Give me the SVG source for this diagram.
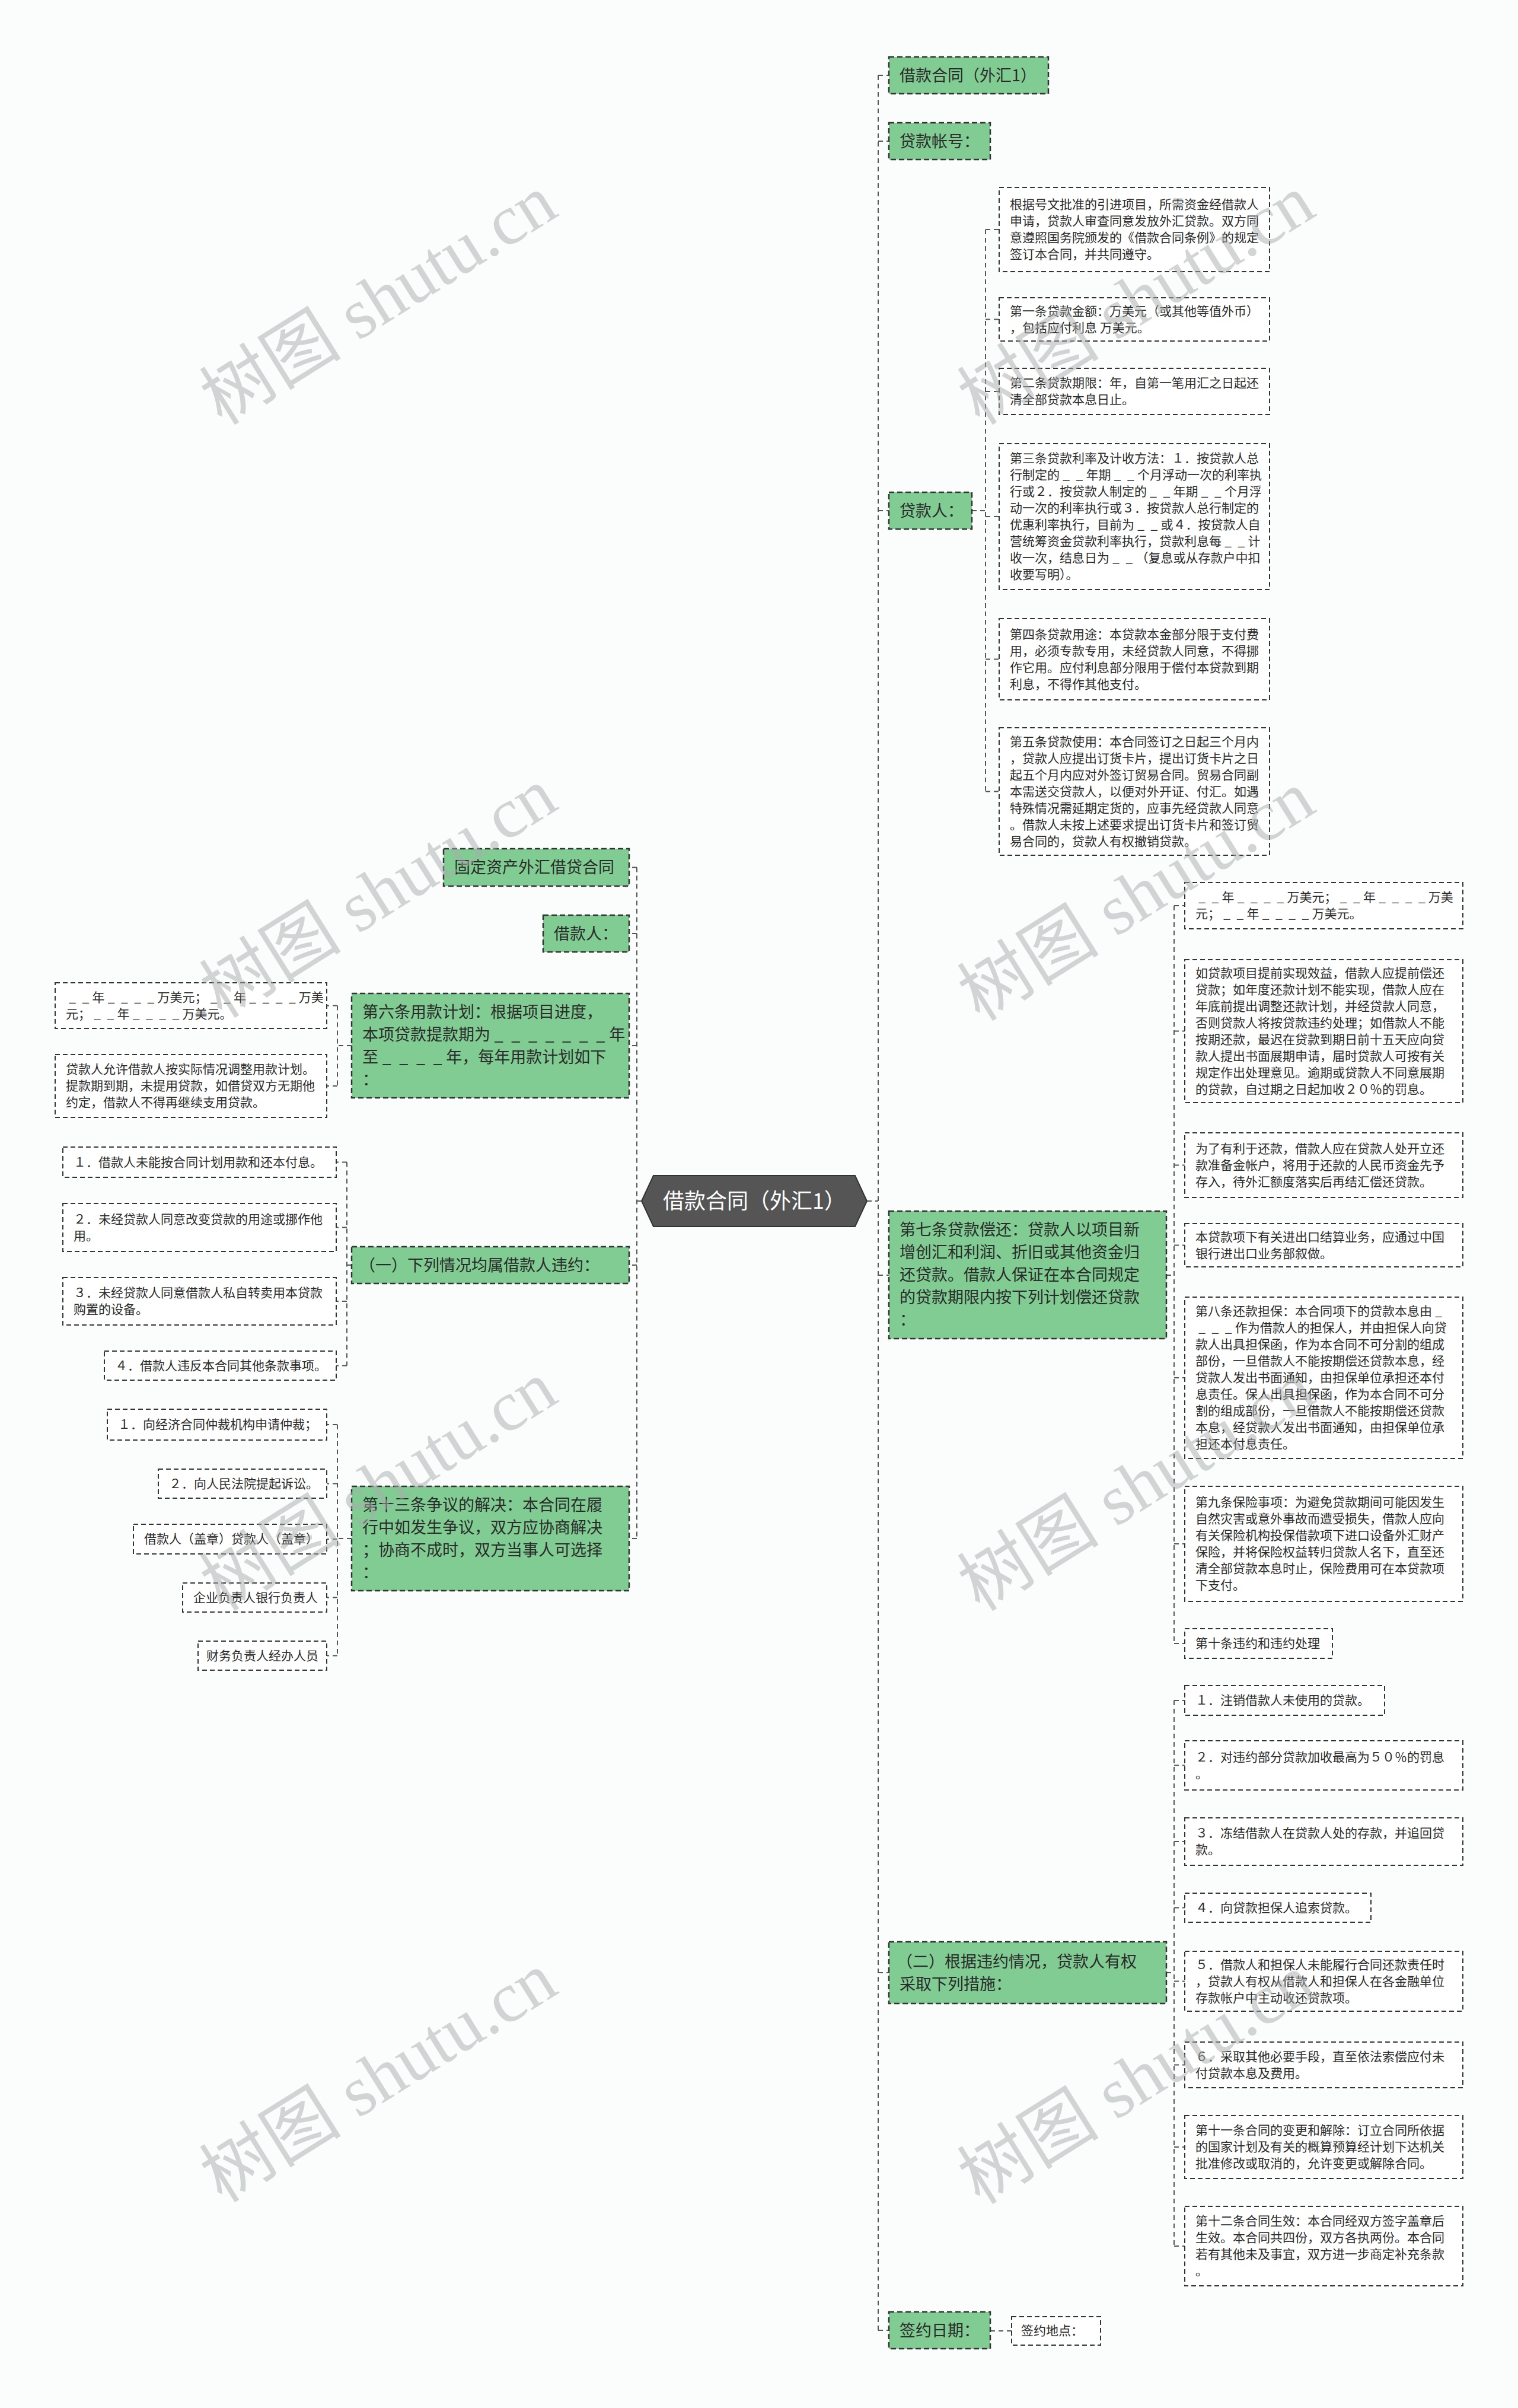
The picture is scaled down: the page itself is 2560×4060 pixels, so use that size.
<svg xmlns="http://www.w3.org/2000/svg" width="2560" height="4060" viewBox="0 0 2560 4060">
<style>
text{font-family:"Noto Sans CJK SC","Noto Sans",sans-serif;fill:#2b2b2b}
.g{fill:#80cc92;stroke:#333;stroke-width:2.5;stroke-dasharray:9 5}
.b{fill:#fff;stroke:#333;stroke-width:2;stroke-dasharray:8 5}
.t1{font-size:27px}
.t2{font-size:21px}
.c{fill:none;stroke:#555;stroke-width:2;stroke-dasharray:8 6}
.wm{font-family:"Liberation Serif","Noto Sans CJK SC",serif;font-size:120px;fill:#a9adad;opacity:0.5;text-anchor:middle}
</style>
<rect x="0" y="0" width="2560" height="4060" fill="#fbfdfd"/>
<g id="connectors">
<path class="c" d="M1462,2025H1481M1481,127V3929M1481,127H1499M1481,238H1499M1481,861H1499M1481,2150H1499M1481,3326H1499M1481,3929H1499"/>
<path class="c" d="M1639,861H1662M1662,387V1334.5M1662,387H1685M1662,538.5H1685M1662,660H1685M1662,871H1685M1662,1111.5H1685M1662,1334.5H1685"/>
<path class="c" d="M1967,2150H1980M1980,1527V2771M1980,1527H1998M1980,1738.5H1998M1980,1964.5H1998M1980,2099.5H1998M1980,2323H1998M1980,2603H1998M1980,2771H1998"/>
<path class="c" d="M1967,3326H1980M1980,2867V3787M1980,2867H1998M1980,2976.5H1998M1980,3105H1998M1980,3216.5H1998M1980,3340.5H1998M1980,3481.5H1998M1980,3620H1998M1980,3787H1998"/>
<path class="c" d="M1670,3930H1706"/>
<path class="c" d="M1082,2025H1074M1074,1462.5V2594M1074,1462.5H1061M1074,1574H1061M1074,1763H1061M1074,2133H1061M1074,2594H1061"/>
<path class="c" d="M593,1763H569M569,1695.5V1831M569,1695.5H551M569,1831H551"/>
<path class="c" d="M593,2133H585M585,1959.5V2302.5M585,1959.5H567M585,2069.5H567M585,2194H567M585,2302.5H567"/>
<path class="c" d="M593,2594H569M569,2402V2791.5M569,2402H551M569,2501.5H551M569,2595H551M569,2693.5H551M569,2791.5H551"/>
</g>
<g id="center">
<polygon points="1082,2025 1102,1982 1442,1982 1462,2025 1442,2068 1102,2068" fill="#555" stroke="#333" stroke-width="2"/>
<text x="1272" y="2038" font-size="36" text-anchor="middle" style="fill:#fff">借款合同（外汇1）</text>
</g>
<g id="r1"><rect class="g" x="1499" y="96" width="269" height="62"/><text class="t1" x="1517" y="137">借款合同（外汇1）</text></g>
<g id="r2"><rect class="g" x="1499" y="207" width="171" height="62"/><text class="t1" x="1517" y="247.5">贷款帐号：</text></g>
<g id="r3"><rect class="g" x="1499" y="830" width="140" height="62"/><text class="t1" x="1517" y="870.5">贷款人：</text></g>
<g id="r3a"><rect class="b" x="1685" y="316" width="456" height="142"/><text class="t2" x="1703" y="352">根据号文批准的引进项目，所需资金经借款人<tspan x="1703" y="380">申请，贷款人审查同意发放外汇贷款。双方同</tspan><tspan x="1703" y="408">意遵照国务院颁发的《借款合同条例》的规定</tspan><tspan x="1703" y="436">签订本合同，并共同遵守。</tspan></text></g>
<g id="r3b"><rect class="b" x="1685" y="502" width="456" height="73"/><text class="t2" x="1703" y="531.5">第一条贷款金额：万美元（或其他等值外币）<tspan x="1703" y="559.5">，包括应付利息 万美元。</tspan></text></g>
<g id="r3c"><rect class="b" x="1685" y="621" width="456" height="78"/><text class="t2" x="1703" y="653">第二条贷款期限：年，自第一笔用汇之日起还<tspan x="1703" y="681">清全部贷款本息日止。</tspan></text></g>
<g id="r3d"><rect class="b" x="1685" y="748" width="456" height="246"/><text class="t2" x="1703" y="780">第三条贷款利率及计收方法：１．按贷款人总<tspan x="1703" y="808">行制定的&#x2005;_&#x2005;&#x2005;_&#x2005;年期&#x2005;_&#x2005;&#x2005;_&#x2005;个月浮动一次的利率执</tspan><tspan x="1703" y="836">行或２．按贷款人制定的&#x2005;_&#x2005;&#x2005;_&#x2005;年期&#x2005;_&#x2005;&#x2005;_&#x2005;个月浮</tspan><tspan x="1703" y="864">动一次的利率执行或３．按贷款人总行制定的</tspan><tspan x="1703" y="892">优惠利率执行，目前为&#x2005;_&#x2005;&#x2005;_&#x2005;或４．按贷款人自</tspan><tspan x="1703" y="920">营统筹资金贷款利率执行，贷款利息每&#x2005;_&#x2005;&#x2005;_&#x2005;计</tspan><tspan x="1703" y="948">收一次，结息日为&#x2005;_&#x2005;&#x2005;_&#x2005;（复息或从存款户中扣</tspan><tspan x="1703" y="976">收要写明）。</tspan></text></g>
<g id="r3e"><rect class="b" x="1685" y="1043" width="456" height="137"/><text class="t2" x="1703" y="1076.5">第四条贷款用途：本贷款本金部分限于支付费<tspan x="1703" y="1104.5">用，必须专款专用，未经贷款人同意，不得挪</tspan><tspan x="1703" y="1132.5">作它用。应付利息部分限用于偿付本贷款到期</tspan><tspan x="1703" y="1160.5">利息，不得作其他支付。</tspan></text></g>
<g id="r3f"><rect class="b" x="1685" y="1227" width="456" height="215"/><text class="t2" x="1703" y="1257.5">第五条贷款使用：本合同签订之日起三个月内<tspan x="1703" y="1285.5">，贷款人应提出订货卡片，提出订货卡片之日</tspan><tspan x="1703" y="1313.5">起五个月内应对外签订贸易合同。贸易合同副</tspan><tspan x="1703" y="1341.5">本需送交贷款人，以便对外开证、付汇。如遇</tspan><tspan x="1703" y="1369.5">特殊情况需延期定货的，应事先经贷款人同意</tspan><tspan x="1703" y="1397.5">。借款人未按上述要求提出订货卡片和签订贸</tspan><tspan x="1703" y="1425.5">易合同的，贷款人有权撤销贷款。</tspan></text></g>
<g id="r4"><rect class="g" x="1499" y="2042" width="468" height="215"/><text class="t1" x="1517" y="2083">第七条贷款偿还：贷款人以项目新<tspan x="1517" y="2121">增创汇和利润、折旧或其他资金归</tspan><tspan x="1517" y="2159">还贷款。借款人保证在本合同规定</tspan><tspan x="1517" y="2197">的贷款期限内按下列计划偿还贷款</tspan><tspan x="1517" y="2235">：</tspan></text></g>
<g id="r4a"><rect class="b" x="1998" y="1488" width="469" height="78"/><text class="t2" x="2016" y="1520">&#x2005;_&#x2005;&#x2005;_&#x2005;年&#x2005;_&#x2005;&#x2005;_&#x2005;&#x2005;_&#x2005;&#x2005;_&#x2005;万美元；&#x2005;_&#x2005;&#x2005;_&#x2005;年&#x2005;_&#x2005;&#x2005;_&#x2005;&#x2005;_&#x2005;&#x2005;_&#x2005;万美<tspan x="2016" y="1548">元；&#x2005;_&#x2005;&#x2005;_&#x2005;年&#x2005;_&#x2005;&#x2005;_&#x2005;&#x2005;_&#x2005;&#x2005;_&#x2005;万美元。</tspan></text></g>
<g id="r4b"><rect class="b" x="1998" y="1618" width="469" height="241"/><text class="t2" x="2016" y="1647.5">如贷款项目提前实现效益，借款人应提前偿还<tspan x="2016" y="1675.5">贷款；如年度还款计划不能实现，借款人应在</tspan><tspan x="2016" y="1703.5">年底前提出调整还款计划，并经贷款人同意，</tspan><tspan x="2016" y="1731.5">否则贷款人将按贷款违约处理；如借款人不能</tspan><tspan x="2016" y="1759.5">按期还款，最迟在贷款到期日前十五天应向贷</tspan><tspan x="2016" y="1787.5">款人提出书面展期申请，届时贷款人可按有关</tspan><tspan x="2016" y="1815.5">规定作出处理意见。逾期或贷款人不同意展期</tspan><tspan x="2016" y="1843.5">的贷款，自过期之日起加收２０％的罚息。</tspan></text></g>
<g id="r4c"><rect class="b" x="1998" y="1910" width="469" height="109"/><text class="t2" x="2016" y="1943.5">为了有利于还款，借款人应在贷款人处开立还<tspan x="2016" y="1971.5">款准备金帐户，将用于还款的人民币资金先予</tspan><tspan x="2016" y="1999.5">存入，待外汇额度落实后再结汇偿还贷款。</tspan></text></g>
<g id="r4d"><rect class="b" x="1998" y="2063" width="469" height="73"/><text class="t2" x="2016" y="2092.5">本贷款项下有关进出口结算业务，应通过中国<tspan x="2016" y="2120.5">银行进出口业务部叙做。</tspan></text></g>
<g id="r4e"><rect class="b" x="1998" y="2187" width="469" height="272"/><text class="t2" x="2016" y="2218">第八条还款担保：本合同项下的贷款本息由&#x2005;_&#x2005;<tspan x="2016" y="2246">&#x2005;_&#x2005;&#x2005;_&#x2005;&#x2005;_&#x2005;作为借款人的担保人，并由担保人向贷</tspan><tspan x="2016" y="2274">款人出具担保函，作为本合同不可分割的组成</tspan><tspan x="2016" y="2302">部份，一旦借款人不能按期偿还贷款本息，经</tspan><tspan x="2016" y="2330">贷款人发出书面通知，由担保单位承担还本付</tspan><tspan x="2016" y="2358">息责任。保人出具担保函，作为本合同不可分</tspan><tspan x="2016" y="2386">割的组成部份，一旦借款人不能按期偿还贷款</tspan><tspan x="2016" y="2414">本息，经贷款人发出书面通知，由担保单位承</tspan><tspan x="2016" y="2442">担还本付息责任。</tspan></text></g>
<g id="r4f"><rect class="b" x="1998" y="2506" width="469" height="194"/><text class="t2" x="2016" y="2540">第九条保险事项：为避免贷款期间可能因发生<tspan x="2016" y="2568">自然灾害或意外事故而遭受损失，借款人应向</tspan><tspan x="2016" y="2596">有关保险机构投保借款项下进口设备外汇财产</tspan><tspan x="2016" y="2624">保险，并将保险权益转归贷款人名下，直至还</tspan><tspan x="2016" y="2652">清全部贷款本息时止，保险费用可在本贷款项</tspan><tspan x="2016" y="2680">下支付。</tspan></text></g>
<g id="r4g"><rect class="b" x="1998" y="2746" width="249" height="50"/><text class="t2" x="2016" y="2778">第十条违约和违约处理</text></g>
<g id="r5"><rect class="g" x="1499" y="3274" width="468" height="104"/><text class="t1" x="1512" y="3316.5">（二）根据违约情况，贷款人有权<tspan x="1517" y="3354.5">采取下列措施：</tspan></text></g>
<g id="r5a"><rect class="b" x="1998" y="2842" width="337" height="50"/><text class="t2" x="2016" y="2874">１．注销借款人未使用的贷款。</text></g>
<g id="r5b"><rect class="b" x="1998" y="2935" width="469" height="83"/><text class="t2" x="2016" y="2969.5">２．对违约部分贷款加收最高为５０％的罚息<tspan x="2016" y="2997.5">。</tspan></text></g>
<g id="r5c"><rect class="b" x="1998" y="3065" width="469" height="80"/><text class="t2" x="2016" y="3098">３．冻结借款人在贷款人处的存款，并追回贷<tspan x="2016" y="3126">款。</tspan></text></g>
<g id="r5d"><rect class="b" x="1998" y="3192" width="314" height="49"/><text class="t2" x="2016" y="3223.5">４．向贷款担保人追索贷款。</text></g>
<g id="r5e"><rect class="b" x="1998" y="3290" width="469" height="101"/><text class="t2" x="2016" y="3319.5">５．借款人和担保人未能履行合同还款责任时<tspan x="2016" y="3347.5">，贷款人有权从借款人和担保人在各金融单位</tspan><tspan x="2016" y="3375.5">存款帐户中主动收还贷款项。</tspan></text></g>
<g id="r5f"><rect class="b" x="1998" y="3443" width="469" height="77"/><text class="t2" x="2016" y="3474.5">６．采取其他必要手段，直至依法索偿应付未<tspan x="2016" y="3502.5">付贷款本息及费用。</tspan></text></g>
<g id="r5g"><rect class="b" x="1998" y="3567" width="469" height="106"/><text class="t2" x="2016" y="3599">第十一条合同的变更和解除：订立合同所依据<tspan x="2016" y="3627">的国家计划及有关的概算预算经计划下达机关</tspan><tspan x="2016" y="3655">批准修改或取消的，允许变更或解除合同。</tspan></text></g>
<g id="r5h"><rect class="b" x="1998" y="3720" width="469" height="134"/><text class="t2" x="2016" y="3752">第十二条合同生效：本合同经双方签字盖章后<tspan x="2016" y="3780">生效。本合同共四份，双方各执两份。本合同</tspan><tspan x="2016" y="3808">若有其他未及事宜，双方进一步商定补充条款</tspan><tspan x="2016" y="3836">。</tspan></text></g>
<g id="r6"><rect class="g" x="1499" y="3898" width="171" height="62"/><text class="t1" x="1517" y="3938.5">签约日期：</text></g>
<g id="r6a"><rect class="b" x="1706" y="3906" width="150" height="48"/><text class="t2" x="1722" y="3937">签约地点：</text></g>
<g id="l1"><rect class="g" x="748" y="1431" width="313" height="63"/><text class="t1" x="766" y="1472">固定资产外汇借贷合同</text></g>
<g id="l2"><rect class="g" x="916" y="1543" width="145" height="62"/><text class="t1" x="934" y="1583.5">借款人：</text></g>
<g id="l3"><rect class="g" x="593" y="1675" width="468" height="176"/><text class="t1" x="611" y="1715.5">第六条用款计划：根据项目进度，<tspan x="611" y="1753.5">本项贷款提款期为&#x2005;_&#x2005;&#x2005;_&#x2005;&#x2005;_&#x2005;&#x2005;_&#x2005;&#x2005;_&#x2005;&#x2005;_&#x2005;&#x2005;_&#x2005;年</tspan><tspan x="611" y="1791.5">至&#x2005;_&#x2005;&#x2005;_&#x2005;&#x2005;_&#x2005;&#x2005;_&#x2005;年，每年用款计划如下</tspan><tspan x="611" y="1829.5">：</tspan></text></g>
<g id="l3a"><rect class="b" x="93" y="1657" width="458" height="77"/><text class="t2" x="111" y="1688.5">&#x2005;_&#x2005;&#x2005;_&#x2005;年&#x2005;_&#x2005;&#x2005;_&#x2005;&#x2005;_&#x2005;&#x2005;_&#x2005;万美元；&#x2005;_&#x2005;&#x2005;_&#x2005;年&#x2005;_&#x2005;&#x2005;_&#x2005;&#x2005;_&#x2005;&#x2005;_&#x2005;万美<tspan x="111" y="1716.5">元；&#x2005;_&#x2005;&#x2005;_&#x2005;年&#x2005;_&#x2005;&#x2005;_&#x2005;&#x2005;_&#x2005;&#x2005;_&#x2005;万美元。</tspan></text></g>
<g id="l3b"><rect class="b" x="93" y="1778" width="458" height="106"/><text class="t2" x="111" y="1810">贷款人允许借款人按实际情况调整用款计划。<tspan x="111" y="1838">提款期到期，未提用贷款，如借贷双方无期他</tspan><tspan x="111" y="1866">约定，借款人不得再继续支用贷款。</tspan></text></g>
<g id="l4"><rect class="g" x="593" y="2102" width="468" height="62"/><text class="t1" x="606" y="2142.5">（一）下列情况均属借款人违约：</text></g>
<g id="l4a"><rect class="b" x="106" y="1934" width="461" height="51"/><text class="t2" x="124" y="1966.5">１．借款人未能按合同计划用款和还本付息。</text></g>
<g id="l4b"><rect class="b" x="106" y="2029" width="461" height="81"/><text class="t2" x="124" y="2062.5">２．未经贷款人同意改变贷款的用途或挪作他<tspan x="124" y="2090.5">用。</tspan></text></g>
<g id="l4c"><rect class="b" x="106" y="2154" width="461" height="80"/><text class="t2" x="124" y="2187">３．未经贷款人同意借款人私自转卖用本贷款<tspan x="124" y="2215">购置的设备。</tspan></text></g>
<g id="l4d"><rect class="b" x="176" y="2278" width="391" height="49"/><text class="t2" x="194" y="2309.5">４．借款人违反本合同其他条款事项。</text></g>
<g id="l5"><rect class="g" x="593" y="2506" width="468" height="176"/><text class="t1" x="611" y="2546.5">第十三条争议的解决：本合同在履<tspan x="611" y="2584.5">行中如发生争议，双方应协商解决</tspan><tspan x="611" y="2622.5">；协商不成时，双方当事人可选择</tspan><tspan x="611" y="2660.5">：</tspan></text></g>
<g id="l5a"><rect class="b" x="181" y="2376" width="370" height="52"/><text class="t2" x="199" y="2409">１．向经济合同仲裁机构申请仲裁；</text></g>
<g id="l5b"><rect class="b" x="267" y="2477" width="284" height="49"/><text class="t2" x="285" y="2508.5">２．向人民法院提起诉讼。</text></g>
<g id="l5c"><rect class="b" x="225" y="2570" width="326" height="50"/><text class="t2" x="243" y="2602">借款人（盖章）贷款人（盖章）</text></g>
<g id="l5d"><rect class="b" x="308" y="2669" width="243" height="49"/><text class="t2" x="326" y="2700.5">企业负责人银行负责人</text></g>
<g id="l5e"><rect class="b" x="334" y="2767" width="217" height="49"/><text class="t2" x="348" y="2798.5">财务负责人经办人员</text></g>
<g id="watermarks">
<text class="wm" transform="translate(660,540) rotate(-32)">树图 shutu.cn</text>
<text class="wm" transform="translate(1938,540) rotate(-32)">树图 shutu.cn</text>
<text class="wm" transform="translate(660,1540) rotate(-32)">树图 shutu.cn</text>
<text class="wm" transform="translate(1938,1545) rotate(-32)">树图 shutu.cn</text>
<text class="wm" transform="translate(660,2540) rotate(-32)">树图 shutu.cn</text>
<text class="wm" transform="translate(1938,2540) rotate(-32)">树图 shutu.cn</text>
<text class="wm" transform="translate(660,3537) rotate(-32)">树图 shutu.cn</text>
<text class="wm" transform="translate(1938,3540) rotate(-32)">树图 shutu.cn</text>
</g>
</svg>
